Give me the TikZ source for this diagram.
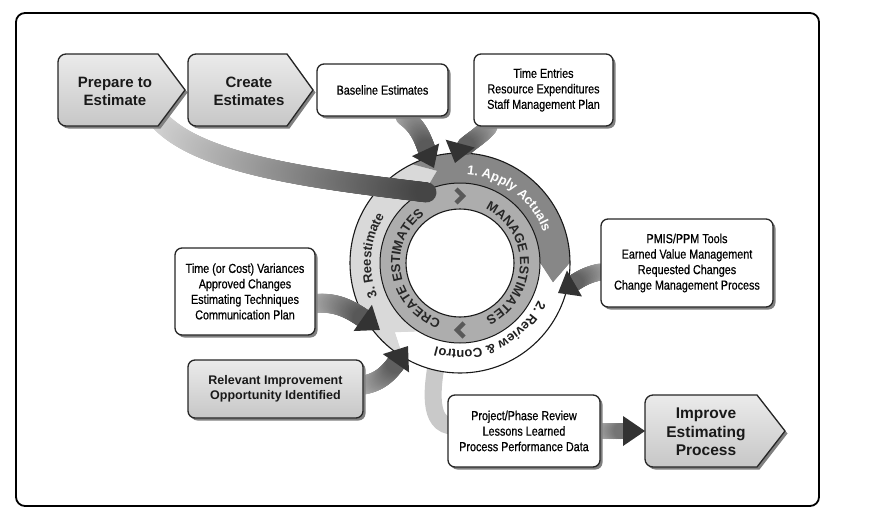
\documentclass[tikz,border=0pt]{standalone}
\usepackage{fontspec}
\setmainfont{Liberation Sans}
\newfontfamily\condfont[FakeStretch=0.83,FakeBold=0.5]{Liberation Sans}
\usetikzlibrary{shadows,decorations.text,decorations.markings}
\newcommand\condf{\condfont\fontsize{13}{15.5}\selectfont}
\newcommand\procf{\fontsize{15}{18}\selectfont\bfseries}
\newcommand\imprf{\fontsize{15.5}{18.5}\selectfont\bfseries}
\newcommand\relf{\fontsize{12.5}{15}\selectfont\bfseries}
\newcommand\ringf{\fontsize{13}{13}\selectfont\bfseries}
\newcommand\innerf{\fontsize{13}{13}\selectfont\bfseries}
\newcommand\fatlight{30}
\newcommand\fatdark{80}
\newcommand\fathw{9}
\newcommand\fathh{16}
\newcommand\fathl{21}
\pgfdeclarelayer{ringlayer}
\pgfdeclarelayer{arrowlayer}
\pgfsetlayers{ringlayer,arrowlayer,main}
\tikzset{
  fathw/.code={\def\fathw{#1}},
  fathh/.code={\def\fathh{#1}},
  fathl/.code={\def\fathl{#1}},
  fatlight/.code={\def\fatlight{#1}},
  fatdark/.code={\def\fatdark{#1}},
  fatarrow/.style={
    postaction={decorate, decoration={markings,
      mark=between positions 0 and -\fathl pt step 0.7pt with {%
        \pgfmathsetmacro\fatfrac{(\pgfkeysvalueof{/pgf/decoration/mark info/distance from start})/(\pgfdecoratedpathlength)}%
        \pgfmathsetmacro\fatshade{\fatlight+(\fatdark-\fatlight)*\fatfrac}%
        \fill[black!\fatshade] (0,0) circle[radius=\fathw pt];},
      mark=at position 1 with {%
        \fill[black!\fatdark] (-\fathl pt,-\fathh pt) -- (0pt,0pt) -- (-\fathl pt,\fathh pt) -- cycle;}
    }}
  },
  shadowed/.style={drop shadow={shadow xshift=2.5pt,shadow yshift=-2.5pt,fill=black!50,opacity=1}},
  infobox/.style={shadowed, draw=black!85, line width=1.3pt, rounded corners=7pt, fill=white,
    align=center, inner sep=0pt, font=\condf, text=black},
  grayinfobox/.style={infobox, top color=black!8, bottom color=black!22, font=\relf, text=black!90},
  procshape/.style={shadowed, draw=black!85, line width=1.3pt, line join=round,
    top color=black!8, bottom color=black!22},
  proctext/.style={align=center, font=\procf, text=black!90, inner sep=0pt},
  ringline/.style={draw=black!90, line width=1.1pt},
  chev/.style={draw=black!65, line width=4.5pt, line join=miter, line cap=butt},
  ringtext/.style={decorate, decoration={text along path, text align=center, text color=#1}}
}
\begin{document}
\begin{tikzpicture}[x=1pt,y=1pt]
\useasboundingbox (0,0) rectangle (883,-522);
\draw[line width=1.8pt, rounded corners=9pt] (16,-13) rectangle (819,-506);

% ---------- boxes (main layer) ----------
\draw[procshape] (58,-90) -- (58,-118) arc[start angle=180,end angle=270,radius=8pt] -- (158,-126) -- (185,-90) -- (158,-54) -- (66,-54) arc[start angle=90,end angle=180,radius=8pt] -- cycle;
\node[proctext] (prep) at (115,-91) {Prepare to\\Estimate};

\draw[procshape] (188,-90) -- (188,-118) arc[start angle=180,end angle=270,radius=8pt] -- (287,-126) -- (313,-90) -- (287,-54) -- (196,-54) arc[start angle=90,end angle=180,radius=8pt] -- cycle;
\node[proctext] (create) at (249,-91) {Create\\Estimates};

\draw[procshape] (645,-431) -- (645,-459) arc[start angle=180,end angle=270,radius=8pt] -- (757,-467) -- (785,-431) -- (757,-395) -- (653,-395) arc[start angle=90,end angle=180,radius=8pt] -- cycle;
\coordinate (imprW) at (645,-431);
\node[proctext, font=\imprf] (impr) at (706,-432) {Improve\\Estimating\\Process};

\node[infobox, minimum width=131pt, minimum height=52pt] (base) at (382.5,-90) {Baseline Estimates};
\node[infobox, minimum width=139pt, minimum height=72pt] (time) at (543.5,-90) {Time Entries\\Resource Expenditures\\Staff Management Plan};
\node[infobox, minimum width=172pt, minimum height=88pt] (pmis) at (687,-263) {PMIS/PPM Tools\\Earned Value Management\\Requested Changes\\Change Management Process};
\node[infobox, minimum width=140pt, minimum height=87pt] (vari) at (245,-291.5) {Time (or Cost) Variances\\Approved Changes\\Estimating Techniques\\Communication Plan};
\node[grayinfobox, minimum width=175pt, minimum height=58pt] (relev) at (275.5,-389) {Relevant Improvement\\Opportunity Identified};
\node[infobox, minimum width=152pt, minimum height=72pt] (proj) at (524,-431) {Project/Phase Review\\Lessons Learned\\Process Performance Data};

% ---------- arrow targets ----------
\coordinate (tA) at (448,-195);
\coordinate (tB) at (434,-168);
\coordinate (tC) at (455,-163);
\coordinate (tD) at (558,-293);
\coordinate (tE) at (380,-330);
\coordinate (tF) at (408,-346);
\coordinate (ringbot) at (437,-360);

% ---------- arrows ----------
\begin{pgfonlayer}{arrowlayer}
\path[fatarrow, fathw=10, fathh=17, fathl=24, fatlight=14, fatdark=78]
  ([shift={(38,-21)}]prep.center) to[out=-57,in=173,out looseness=0.55,in looseness=0.98] (tA);
\path[fatarrow, fathw=9, fathh=15, fathl=20, fatlight=35, fatdark=80]
  ([xshift=22pt]base.south) to[out=-35,in=115] (tB);
\path[fatarrow, fathw=9, fathh=15, fathl=20, fatlight=35, fatdark=80]
  ([xshift=-55pt]time.south) to[out=-130,in=75] (tC);
\path[fatarrow, fathw=8.5, fathh=15, fathl=19, fatlight=35, fatdark=80]
  ([yshift=-9pt]pmis.west) to[out=190,in=30] (tD);
\path[fatarrow, fathw=9.5, fathh=16, fathl=21, fatlight=30, fatdark=80]
  ([yshift=-12pt]vari.east) to[out=5,in=145] (tE);
\path[fatarrow, fathw=9.5, fathh=16, fathl=21, fatlight=30, fatdark=80]
  ([yshift=4pt]relev.east) to[out=10,in=-125] (tF);
\path[fatarrow, fathw=8, fathh=15, fathl=22, fatlight=30, fatdark=80]
  (proj.east) -- (imprW);
\end{pgfonlayer}

% ---------- ring ----------
\begin{pgfonlayer}{ringlayer}
\draw[line width=17pt, black!21] (ringbot) to[out=-100,in=180] ([xshift=6pt,yshift=5pt]proj.west);
\begin{scope}[shift={(460,-263)}]
  \fill[black!32] (0,0) circle[radius=80];
  % 3. Reestimate (light)
  \fill[black!15] (239:110) arc[start angle=239,end angle=116,radius=110] -- (104:95) -- (116:80) arc[start angle=116,end angle=239,radius=80] -- (227:95) -- cycle;
  % 1. Apply Actuals (dark)
  \fill[black!47] (116:110) arc[start angle=116,end angle=0,radius=110] -- (-12:95) -- (0:80) arc[start angle=0,end angle=116,radius=80] -- (104:95) -- cycle;
  % 2. Review & Control (white)
  \fill[white] (0:110) arc[start angle=0,end angle=-121,radius=110] -- (-133:95) -- (-121:80) arc[start angle=-121,end angle=0,radius=80] -- (-12:95) -- cycle;
  \draw[ringline] (0,0) circle[radius=110];
  \draw[ringline, line width=1pt] (0,0) circle[radius=80];
  \filldraw[ringline, fill=white] (0,0) circle[radius=54];
  % chevrons
  \draw[chev] (90:67) ++(-4,7) -- ++(7,-7) -- ++(-7,-7);
  \draw[chev] (-90:67) ++(4,7) -- ++(-7,-7) -- ++(7,-7);
  % ring texts
  \path[ringtext=white, decoration={text={|\ringf|1. Apply Actuals}}] (113:89) arc[start angle=113,end angle=-7,radius=89];
  \path[ringtext=black!88, decoration={text={|\ringf|2. Review {\&} Control}}] (-6:87) arc[start angle=-6,end angle=-126,radius=87];
  \path[ringtext=black!85, decoration={text={|\ringf|3. Reestimate}}] (235:89) arc[start angle=235,end angle=115,radius=89];
  \path[ringtext=black!85, decoration={text={|\innerf|CREATE ESTIMATES}}] (259:60) arc[start angle=259,end angle=119,radius=60];
  \path[ringtext=black!85, decoration={text={|\innerf|MANAGE ESTIMATES}}] (72:60) arc[start angle=72,end angle=-72,radius=60];
\end{scope}
\end{pgfonlayer}
\end{tikzpicture}
\end{document}
